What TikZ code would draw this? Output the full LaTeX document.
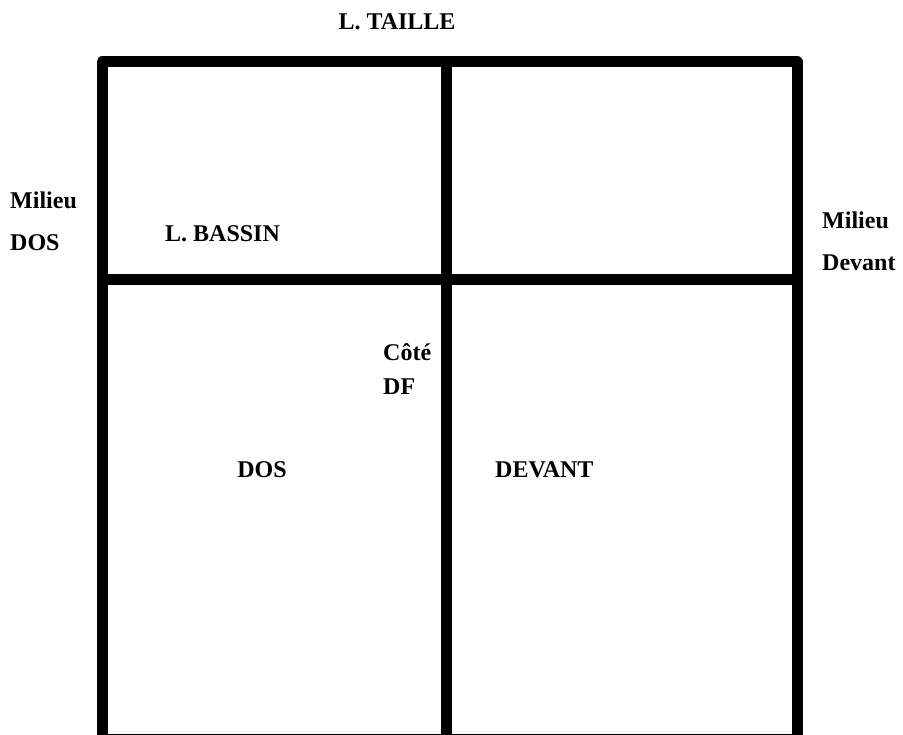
\documentclass[tikz,border=0pt]{standalone}
\usepackage{fontspec}
\setmainfont{Liberation Serif}
\usepackage{tikz}

\begin{document}
\begin{tikzpicture}[x=1pt,y=-1pt,
    seam/.style={line width=11pt,line join=round},
    lbl/.style={font=\bfseries\fontsize{24}{42}\selectfont,inner sep=0pt},
    lbltight/.style={font=\bfseries\fontsize{24}{34}\selectfont,inner sep=0pt}]

\useasboundingbox (0,0) rectangle (903,735);

% Corners of the block
\coordinate (tl) at (102,62);
\coordinate (tr) at (797,62);
\coordinate (bl) at (102,739);
\coordinate (br) at (797,739);

% Seam ends
\coordinate (midtop) at (446,62);
\coordinate (midbot) at (446,739);
\coordinate (hipl) at (102,280);
\coordinate (hipr) at (797,280);

% Outline
\draw[seam] (bl) -- (tl) -- (tr) -- (br) -- cycle;

% Side seam and hip line
\draw[seam] (midtop) -- (midbot);
\draw[seam] (hipl) -- (hipr);

% Labels
\node[lbl] (taille) at (397,22) {L. TAILLE};
\node[lbl,anchor=west,align=left] (milieudos) at (10,221) {Milieu\\DOS};
\node[lbl,anchor=west] (bassin) at (165,234) {L. BASSIN};
\node[lbl,anchor=west,align=left] (milieudev) at (822,241) {Milieu\\Devant};
\node[lbltight,anchor=west,align=left] (cote) at (383,369) {Côté\\DF};
\node[lbl] (dos) at (262,470) {DOS};
\node[lbl,anchor=west] (devant) at (495,470) {DEVANT};

\end{tikzpicture}
\end{document}
